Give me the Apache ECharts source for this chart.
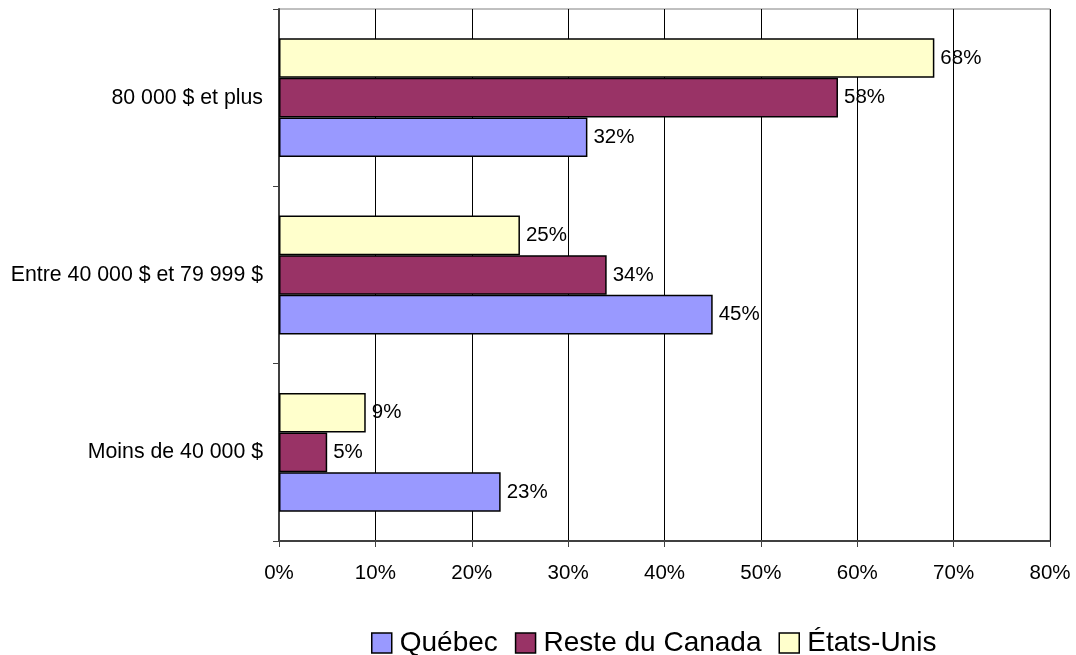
<!DOCTYPE html>
<html>
<head>
<meta charset="utf-8">
<script src="https://cdn.jsdelivr.net/npm/echarts@6/dist/echarts.min.js"></script>
<style>
  html, body { margin: 0; padding: 0; background: #fff; }
  #chart { width: 1076px; height: 655px; }
</style>
</head>
<body>
<div id="chart"></div>
<script>
// données
const categories = ['Moins de 40 000 $', 'Entre 40 000 $ et 79 999 $', '80 000 $ et plus']
const quebec = [23, 45, 32]
const resteCanada = [5, 34, 58]
const etatsUnis = [9, 25, 68]
const seriesNames = ['Québec', 'Reste du Canada', 'États-Unis']
const colors = ['#9999FF', '#993366', '#FFFFCC']

const chart = echarts.init(document.getElementById('chart'))

const mkSeries = (name, data, color) => ({
  name: name,
  type: 'bar',
  data: data,
  barGap: '0%',
  barCategoryGap: '33%',
  itemStyle: { color: color, borderColor: '#000', borderWidth: 1.5 },
  label: {
    show: true,
    position: 'right',
    distance: 6,
    formatter: '{c}%',
    color: '#000',
    fontSize: 20.5,
    fontFamily: 'Liberation Sans'
  }
})

chart.setOption({
  animation: false,
  textStyle: { fontFamily: 'Liberation Sans' },
  grid: {
    left: 279, right: 26, top: 9, bottom: 114,
    show: true, borderColor: '#808080', borderWidth: 1
  },
  legend: {
    top: 629,
    left: 371,
    padding: 0,
    itemWidth: 20,
    itemHeight: 20,
    itemGap: 17,
    icon: 'rect',
    data: seriesNames.map((n, i) => ({ name: n, itemStyle: { color: colors[i], borderColor: '#000', borderWidth: 1.5 } })),
    textStyle: { fontSize: 28, color: '#000', padding: [0, 0, 0, 3] }
  },
  xAxis: {
    type: 'value',
    min: 0, max: 80, interval: 10,
    axisLine: { show: true, lineStyle: { color: '#404040', width: 2 } },
    axisTick: { show: true, length: 6, lineStyle: { color: '#404040' } },
    axisLabel: { formatter: '{value}%', color: '#000', fontSize: 20.5, margin: 22 },
    splitLine: { show: true, lineStyle: { color: '#000', width: 1 } }
  },
  yAxis: {
    type: 'category',
    data: categories,
    axisLine: { show: true, lineStyle: { color: '#404040', width: 2 } },
    axisTick: { show: true, length: 6, lineStyle: { color: '#404040' } },
    axisLabel: { color: '#000', fontSize: 21.3, margin: 16 }
  },
  // ordre inversé pour que Québec soit en bas de chaque groupe
  series: [
    mkSeries(seriesNames[2], etatsUnis, colors[2]),
    mkSeries(seriesNames[1], resteCanada, colors[1]),
    mkSeries(seriesNames[0], quebec, colors[0])
  ]
})
</script>
</body>
</html>
